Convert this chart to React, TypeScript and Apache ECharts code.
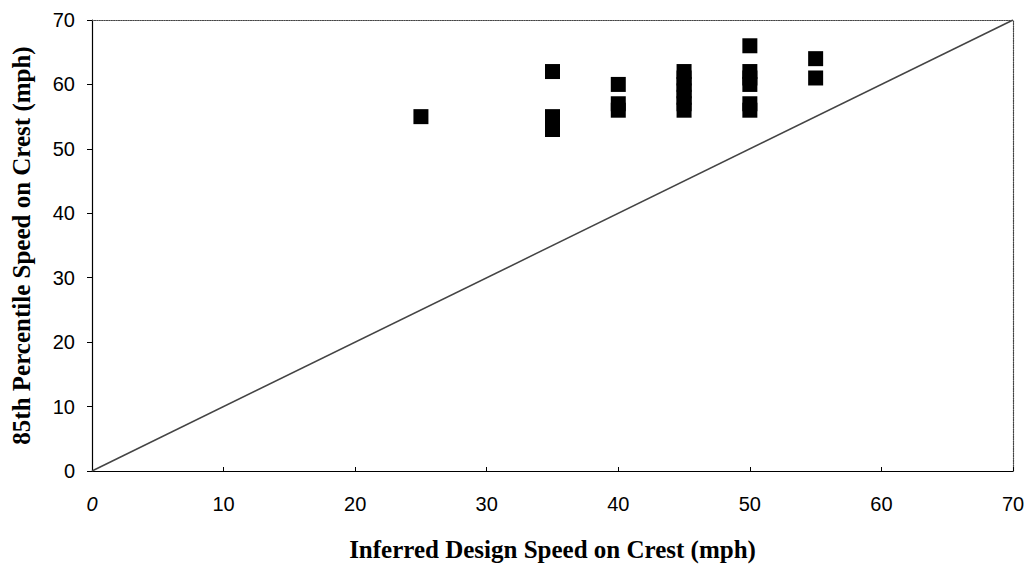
import React, { useEffect, useRef } from "react";
import * as echarts from "echarts";

const xTicks = [0, 10, 20, 30, 40, 50, 60, 70];
const yTicks = [0, 10, 20, 30, 40, 50, 60, 70];

const designSpeed = [25, 35, 35, 35, 35, 40, 40, 40, 45, 45, 45, 45, 45, 45, 45, 50, 50, 50, 50, 50, 50, 55, 55];
const speed85th = [55, 62, 55, 54, 53, 60, 57, 56, 62, 61, 60, 59, 58, 57, 56, 66, 62, 61, 60, 57, 56, 64, 61];

const equalityLine = [
  [0, 0],
  [70, 70],
];

export default function App() {
  const ref = useRef<HTMLDivElement>(null);
  useEffect(() => {
    if (!ref.current) return;
    const chart = echarts.init(ref.current, undefined, { renderer: "svg" });
    const points = designSpeed.map((x, i) => [x, speed85th[i]]);
    chart.setOption({
      animation: false,
      backgroundColor: "#ffffff",
      grid: { left: 92, right: 19, top: 20, bottom: 97, containLabel: false },
      xAxis: [
        {
          type: "value",
          min: 0,
          max: 70,
          interval: 10,
          name: "Inferred Design Speed on Crest (mph)",
          nameLocation: "middle",
          nameGap: 66,
          nameTextStyle: { fontFamily: "Liberation Serif, Times New Roman, serif", fontWeight: "bold", fontSize: 25, color: "#000" },
          axisLine: { show: true, onZero: false, lineStyle: { color: "#000", width: 1 } },
          axisTick: { show: true, inside: true, length: 4, lineStyle: { color: "#000" } },
          axisLabel: {
            margin: 23,
            fontFamily: "Liberation Sans, Arial, sans-serif",
            fontSize: 20,
            color: "#000",
            formatter: (v: number) => (v === 0 ? "{i|0}" : String(v)),
            rich: { i: { fontStyle: "italic", fontFamily: "Liberation Sans, Arial, sans-serif", fontSize: 20, color: "#000" } },
          },
          splitLine: { show: false },
          data: xTicks,
        },
        {
          type: "value",
          position: "top",
          min: 0,
          max: 70,
          interval: 10,
          axisLine: { show: true, onZero: false, lineStyle: { color: "#444", width: 1.2, type: "dotted" } },
          axisTick: { show: false },
          axisLabel: { show: false },
          splitLine: { show: false },
        },
      ],
      yAxis: [
        {
          type: "value",
          min: 0,
          max: 70,
          interval: 10,
          name: "85th Percentile Speed on Crest (mph)",
          nameLocation: "middle",
          nameGap: 58,
          nameTextStyle: { fontFamily: "Liberation Serif, Times New Roman, serif", fontWeight: "bold", fontSize: 25, color: "#000" },
          axisLine: { show: true, onZero: false, lineStyle: { color: "#000", width: 1.2 } },
          axisTick: { show: true, inside: false, length: 5, lineStyle: { color: "#000" } },
          axisLabel: {
            margin: 17,
            fontFamily: "Liberation Sans, Arial, sans-serif",
            fontSize: 20,
            color: "#000",
          },
          splitLine: { show: false },
          data: yTicks,
        },
        {
          type: "value",
          position: "right",
          min: 0,
          max: 70,
          interval: 10,
          axisLine: { show: true, onZero: false, lineStyle: { color: "#444", width: 1.2, type: "dotted" } },
          axisTick: { show: false },
          axisLabel: { show: false },
          splitLine: { show: false },
        },
      ],
      series: [
        {
          type: "line",
          data: equalityLine,
          symbol: "none",
          lineStyle: { color: "#444", width: 1.5 },
          z: 1,
        },
        {
          type: "scatter",
          data: points,
          symbol: "rect",
          symbolSize: 15,
          itemStyle: { color: "#000", opacity: 1 },
          z: 2,
        },
      ],
    });
    return () => chart.dispose();
  }, []);
  return <div ref={ref} style={{ width: 1032, height: 568, position: "absolute", left: 0, top: 0 }} />;
}
